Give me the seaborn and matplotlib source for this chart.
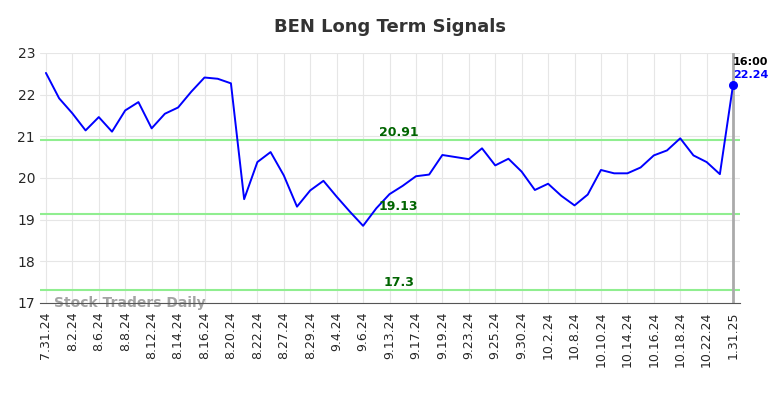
import numpy as np
import pandas as pd
import matplotlib
matplotlib.use('Agg')
import matplotlib.pyplot as plt
import seaborn as sns

prices = [22.52, 21.91, 21.55, 21.14, 21.46, 21.11, 21.62, 21.82, 21.19, 21.54,
          21.69, 22.07, 22.41, 22.38, 22.27, 19.49, 20.38, 20.62, 20.06, 19.31,
          19.70, 19.93, 19.55, 19.19, 18.85, 19.27, 19.61, 19.81, 20.04, 20.08,
          20.55, 20.50, 20.45, 20.71, 20.30, 20.46, 20.15, 19.71, 19.86, 19.57,
          19.34, 19.60, 20.19, 20.11, 20.11, 20.25, 20.54, 20.66, 20.95, 20.54,
          20.38, 20.09, 22.24]
tick_labels = ['7.31.24', '8.2.24', '8.6.24', '8.8.24', '8.12.24', '8.14.24', '8.16.24',
               '8.20.24', '8.22.24', '8.27.24', '8.29.24', '9.4.24', '9.6.24', '9.13.24',
               '9.17.24', '9.19.24', '9.23.24', '9.25.24', '9.30.24', '10.2.24', '10.8.24',
               '10.10.24', '10.14.24', '10.16.24', '10.18.24', '10.22.24', '1.31.25']
levels = [20.91, 19.13, 17.3]
level_labels = ['20.91', '19.13', '17.3']
last_time = '16:00'

df = pd.DataFrame({'idx': np.arange(len(prices)), 'price': prices})
n = len(prices)

sns.set_style('white')
fig, ax = plt.subplots(figsize=(7.84, 3.98), dpi=100)
fig.subplots_adjust(left=0.051, right=0.944, top=0.867, bottom=0.239)

ax.grid(True, color='#e6e6e6', linewidth=0.8)
ax.set_axisbelow(True)

for lv, lab in zip(levels, level_labels):
    ax.axhline(lv, color='#90ee90', linewidth=1.5, zorder=2)
    ax.text(26.7, lv + 0.03, lab, color='darkgreen', fontsize=9, fontweight='bold',
            ha='center', va='bottom', zorder=4)

sns.lineplot(data=df, x='idx', y='price', color='blue', linewidth=1.4, ax=ax, zorder=3)

ax.axvline(n - 1, color='#aaaaaa', linewidth=2, zorder=2)
ax.scatter([n - 1], [prices[-1]], color='blue', s=30, zorder=5)
ax.text(n - 1, prices[-1] + 0.42, last_time, color='black', fontsize=8, fontweight='bold',
        ha='left', va='bottom')
ax.text(n - 1, prices[-1] + 0.1, f'{prices[-1]:.2f}', color='blue', fontsize=8,
        fontweight='bold', ha='left', va='bottom')

ax.text(0.6, 17.0, 'Stock Traders Daily', color='#999999', fontsize=10, fontweight='bold',
        ha='left', va='center', alpha=0.9, zorder=1)

ticks = list(range(0, n - 1, 2)) + [n - 1]
ax.set_xticks(ticks)
ax.set_xticklabels(tick_labels, rotation=90, fontsize=9)
ax.set_xlim(-0.45, n - 0.47)
ax.set_ylim(17, 23)
ax.set_yticks([17, 18, 19, 20, 21, 22, 23])
ax.tick_params(axis='y', labelsize=10, length=0)
ax.tick_params(axis='x', length=0, pad=6)
ax.set_xlabel('')
ax.set_ylabel('')

for s in ['top', 'right', 'left']:
    ax.spines[s].set_visible(False)
ax.spines['bottom'].set_color('#555555')
ax.spines['bottom'].set_zorder(6)

ax.set_title('BEN Long Term Signals', fontsize=13, fontweight='bold', color='#333333', pad=15)

fig.savefig('out.png', dpi=100)
